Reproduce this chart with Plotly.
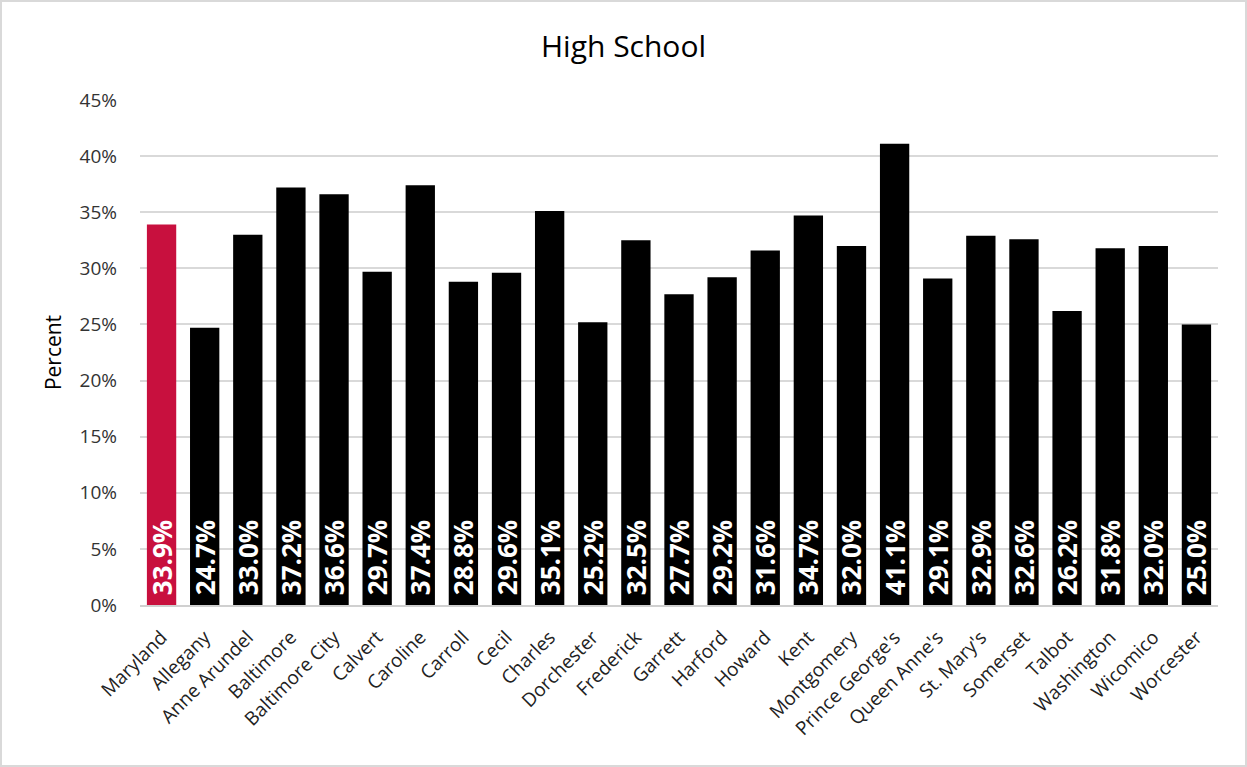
import plotly.graph_objects as go

counties = ["Maryland", "Allegany", "Anne Arundel", "Baltimore", "Baltimore City", "Calvert",
            "Caroline", "Carroll", "Cecil", "Charles", "Dorchester", "Frederick", "Garrett",
            "Harford", "Howard", "Kent", "Montgomery", "Prince George's", "Queen Anne's",
            "St. Mary's", "Somerset", "Talbot", "Washington", "Wicomico", "Worcester"]
values = [33.9, 24.7, 33.0, 37.2, 36.6, 29.7, 37.4, 28.8, 29.6, 35.1, 25.2, 32.5, 27.7,
          29.2, 31.6, 34.7, 32.0, 41.1, 29.1, 32.9, 32.6, 26.2, 31.8, 32.0, 25.0]
y_ticks = [0, 5, 10, 15, 20, 25, 30, 35, 40, 45]
y_tick_labels = [f"{v}%" for v in y_ticks]

colors = ["#C8103E"] + ["#000000"] * (len(values) - 1)

FONT = "Open Sans, Noto Sans, sans-serif"

fig = go.Figure(go.Bar(
    x=counties, y=values,
    marker=dict(color=colors, line=dict(width=0)),
    text=[f"\u00a0{v:.1f}%" for v in values],
    textposition="inside", insidetextanchor="start", textangle=-90,
    textfont=dict(color="white", size=26, family=FONT, weight="bold"),
    cliponaxis=False,
))

W, H = 1247, 767
l, r, t, b = 140, 29, 100, 162
pw, ph = W - l - r, H - t - b

fig.update_layout(
    width=W, height=H,
    margin=dict(l=l, r=r, t=t, b=b, autoexpand=False),
    paper_bgcolor="white", plot_bgcolor="white",
    bargap=0.32,
    showlegend=False,
    uniformtext=dict(minsize=26, mode="show"),
    title=dict(text="High School", x=(W / 2 - l) / pw, xref="paper", xanchor="center",
               y=1 - 46 / H, yanchor="middle",
               font=dict(size=30, color="#000000", family=FONT)),
    font=dict(family=FONT, color="#404040"),
    xaxis=dict(tickangle=-45, tickfont=dict(size=19, color="#222222"),
               showline=True, linecolor="#d0d0d0", linewidth=1.5, ticks="",
               ticklabelstandoff=12),
    yaxis=dict(range=[0, 45], tickvals=y_ticks, ticktext=y_tick_labels,
               tickfont=dict(size=19, color="#333333"),
               showgrid=True, gridcolor="#d9d9d9", gridwidth=1.5,
               zeroline=False, showline=False, ticks="", ticklen=0,
               ticklabelstandoff=22,
               title=dict(text="Percent", font=dict(size=21, color="#000000"), standoff=12)),
    shapes=[dict(type="rect", xref="paper", yref="paper",
                 x0=(1 - l) / pw, x1=(W - 1 - l) / pw,
                 y0=-(b - 1) / ph, y1=1 + (t - 1) / ph,
                 line=dict(color="#d9d9d9", width=2), fillcolor="rgba(0,0,0,0)")],
)

fig.write_html("out.html")
